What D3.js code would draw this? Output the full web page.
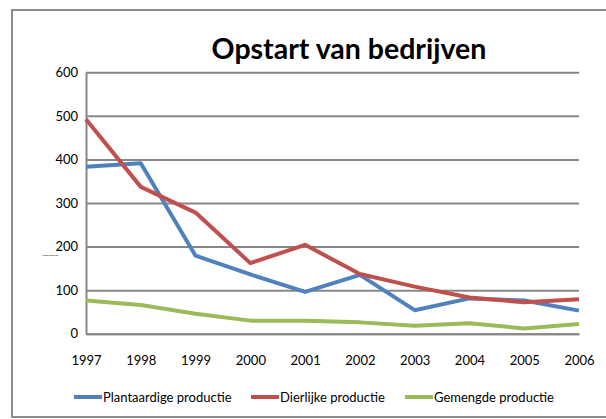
<!DOCTYPE html>
<html>
<head>
<meta charset="utf-8">
<script src="https://cdn.jsdelivr.net/npm/d3@7/dist/d3.min.js"></script>
<style>
  body { margin: 0; background: #fff; }
  svg { display: block; }
  text { font-family: Lato, "Open Sans", sans-serif; fill: #000; }
</style>
</head>
<body>
<div id="chart"></div>
<script>
// data
const years = ["1997", "1998", "1999", "2000", "2001", "2002", "2003", "2004", "2005", "2006"];
const plantaardig = [383, 391, 179, 136, 96, 135, 54, 81, 76, 53];
const dierlijk = [492, 337, 278, 162, 204, 137, 108, 83, 72, 79];
const gemengd = [76, 66, 46, 30, 30, 26, 18, 24, 12, 22];
const seriesNames = ["Plantaardige productie", "Dierlijke productie", "Gemengde productie"];
const yTicks = [0, 100, 200, 300, 400, 500, 600];

const colors = ["#4f81bd", "#c0504d", "#9bbb59"];
const series = [plantaardig, dierlijk, gemengd];

const W = 606, H = 419;
const plot = {left: 86, right: 579, top: 72.3, bottom: 333.7};

const svg = d3.select("#chart").append("svg")
    .attr("width", W)
    .attr("height", H);

// outer chart frame
svg.append("rect")
    .attr("x", 12).attr("y", 10)
    .attr("width", 620).attr("height", 407)
    .attr("fill", "none")
    .attr("stroke", "#8c8c8c")
    .attr("stroke-width", 2);

// title
svg.append("text")
    .attr("x", 349).attr("y", 59)
    .attr("text-anchor", "middle")
    .style("font-size", "28.5px")
    .style("font-weight", "bold")
    .text("Opstart van bedrijven");

const x = d3.scalePoint()
    .domain(years)
    .range([plot.left, plot.right]);

const y = d3.scaleLinear()
    .domain([0, 600])
    .range([plot.bottom, plot.top]);

// y axis + gridlines
const yAxis = svg.append("g")
    .attr("transform", "translate(" + plot.left + ",0)")
    .call(d3.axisLeft(y)
        .tickValues(yTicks)
        .tickSizeInner(-(plot.right - plot.left))
        .tickSizeOuter(0)
        .tickPadding(8));
yAxis.selectAll("line, path")
    .attr("stroke", "#878787")
    .attr("stroke-width", 2);
yAxis.selectAll("text")
    .style("font-size", "13px")
    .style("font-family", "Lato, sans-serif")
    .attr("fill", "#000");

// x axis labels
const xAxis = svg.append("g")
    .attr("transform", "translate(0," + plot.bottom + ")")
    .call(d3.axisBottom(x).tickSize(0).tickPadding(22));
xAxis.select(".domain")
    .attr("stroke", "#878787")
    .attr("stroke-width", 2);
xAxis.selectAll("text")
    .style("font-size", "13px")
    .style("font-family", "Lato, sans-serif")
    .attr("fill", "#000");

// tiny axis title as in the original
svg.append("text")
    .attr("x", 50).attr("y", 256)
    .attr("text-anchor", "middle")
    .style("font-size", "2.3px")
    .attr("fill", "#444")
    .text("Aantal bedrijven");

// lines
const line = d3.line()
    .x((d, i) => x(years[i]))
    .y(d => y(d));

series.forEach((s, k) => {
    svg.append("path")
        .datum(s)
        .attr("fill", "none")
        .attr("stroke", colors[k])
        .attr("stroke-width", 4)
        .attr("stroke-linejoin", "round")
        .attr("d", line);
});

// legend
const legendX = [74, 251, 405];
seriesNames.forEach((name, k) => {
    const g = svg.append("g").attr("transform", "translate(" + legendX[k] + ",397)");
    g.append("line")
        .attr("x1", 0).attr("x2", 28)
        .attr("stroke", colors[k])
        .attr("stroke-width", 4);
    g.append("text")
        .attr("x", 29).attr("y", 4.5)
        .style("font-size", "13px")
        .text(name);
});
</script>
</body>
</html>
